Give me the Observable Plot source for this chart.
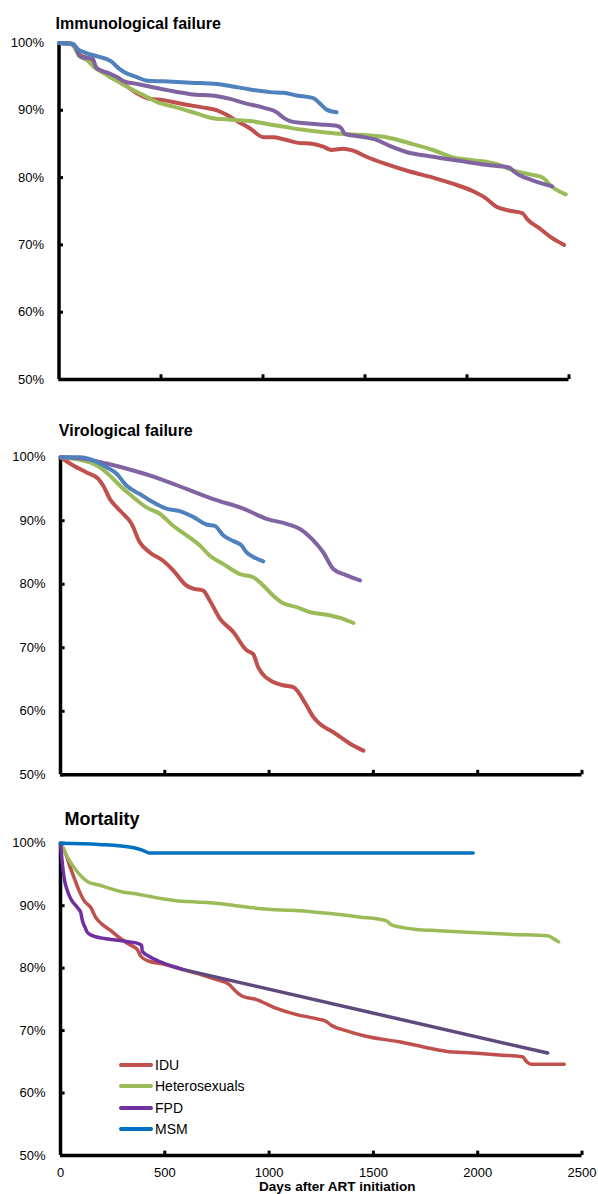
<!DOCTYPE html>
<html><head><meta charset="utf-8">
<script src="https://cdn.jsdelivr.net/npm/d3@7"></script>
<script src="https://cdn.jsdelivr.net/npm/@observablehq/plot@0.6"></script>
<style>
html,body{margin:0;padding:0;background:#fff;}
#page{position:relative;width:598px;height:1194px;overflow:hidden;font-family:"Liberation Sans",Arial,sans-serif;}
.panel{position:absolute;left:0;}
#legend{position:absolute;left:119px;top:1054.4px;}
.row{height:21.3px;display:flex;align-items:center;font-size:14px;color:#000;}
.sw{width:34px;height:4px;border-radius:2px;margin-right:2px;}
</style></head><body><div id="page"></div>
<script>
// ---- ticks ----
const yTicks = [50, 60, 70, 80, 90, 100];
const xTicks = [500, 1000, 1500, 2000, 2500];
const xLabelTicks = [0, 500, 1000, 1500, 2000, 2500];
const groups = ["IDU", "Heterosexuals", "FPD", "MSM"];

// ---- Immunological failure: [days, % free of event] ----
const immIDU = [[0,100],[59,99.9],[83,99.1],[107,98.1],[140,97.8],[165,97.5],[181,96.4],[221,95.7],[287,94.7],[335,93.5],[384,92.5],[433,91.8],[514,91.5],[612,90.9],[709,90.4],[775,90.0],[824,89.3],[873,88.4],[937,87.3],[1002,86.0],[1051,86.0],[1100,85.7],[1166,85.2],[1247,85.0],[1295,84.6],[1336,84.1],[1393,84.3],[1442,84.0],[1507,83.1],[1605,82.0],[1719,80.9],[1833,80.0],[1930,79.1],[2028,78.0],[2093,76.9],[2142,75.7],[2191,75.2],[2272,74.7],[2296,73.8],[2354,72.5],[2418,71.0],[2476,70.0]];
const immHet = [[0,100],[67,99.8],[83,98.9],[99,98.1],[140,97.4],[172,96.4],[221,95.5],[287,94.3],[352,93.2],[417,92.2],[482,91.2],[580,90.4],[677,89.5],[742,88.9],[840,88.6],[937,88.4],[1035,87.9],[1133,87.4],[1198,87.1],[1279,86.8],[1377,86.5],[1507,86.3],[1605,86.0],[1719,85.1],[1833,84.1],[1930,83.0],[2028,82.6],[2158,81.9],[2223,81.1],[2321,80.4],[2370,80.0],[2418,78.6],[2484,77.5]];
const immFPD = [[0,100],[59,99.9],[83,99.4],[99,98.1],[124,97.8],[165,97.7],[181,96.4],[205,95.9],[246,95.5],[287,94.9],[319,94.3],[384,93.9],[449,93.5],[531,93.0],[645,92.4],[775,92.1],[840,91.7],[905,91.1],[1002,90.4],[1068,89.7],[1100,88.9],[1133,88.4],[1198,88.1],[1279,87.9],[1361,87.7],[1385,87.3],[1401,86.5],[1475,86.1],[1556,85.6],[1621,84.7],[1703,83.8],[1833,83.1],[1963,82.5],[2093,81.9],[2207,81.5],[2231,80.9],[2256,80.4],[2321,79.6],[2418,78.7]];
const immMSM = [[0,100],[67,99.9],[91,99.1],[124,98.6],[189,98.0],[254,97.3],[294,96.2],[319,95.7],[384,94.9],[433,94.4],[514,94.3],[645,94.1],[775,93.9],[840,93.6],[937,93.1],[1035,92.7],[1100,92.6],[1166,92.2],[1247,91.8],[1279,91.0],[1312,90.1],[1361,89.7]];

// ---- Virological failure ----
const virIDU = [[0,100],[61,98.7],[125,97.6],[181,96.6],[205,95.5],[237,93.4],[285,91.6],[341,89.5],[380,86.6],[428,85.0],[492,83.7],[540,82.2],[604,79.8],[636,79.3],[684,79.0],[716,77.4],[764,74.6],[828,72.5],[892,69.6],[924,69.0],[948,66.9],[1020,64.6],[1068,64.1],[1116,63.8],[1180,60.9],[1212,59.1],[1244,58.0],[1308,56.7],[1388,54.9],[1452,53.8]];
const virHet = [[0,100],[141,99.2],[189,98.4],[237,97.1],[285,95.5],[349,93.7],[412,92.1],[476,91.1],[540,89.2],[604,87.7],[668,86.1],[716,84.5],[780,83.2],[860,81.6],[924,81.1],[972,79.8],[1020,78.2],[1068,77.0],[1132,76.4],[1196,75.6],[1276,75.2],[1340,74.7],[1404,73.9]];
const virFPD = [[0,100],[125,99.7],[221,99.0],[349,97.9],[476,96.6],[604,95.0],[732,93.4],[876,91.9],[988,90.3],[1084,89.5],[1148,88.7],[1212,86.9],[1260,85.0],[1308,82.4],[1372,81.4],[1436,80.6]];
const virMSM = [[0,100],[93,100],[157,99.5],[221,98.4],[269,97.4],[317,95.5],[380,94.2],[444,92.9],[508,91.9],[572,91.5],[636,90.6],[700,89.4],[740,89.2],[780,87.7],[828,86.8],[868,86.1],[892,85.0],[924,84.3],[972,83.6]];

// ---- Mortality ----
const mortIDU = [[0,100],[25,98.3],[41,96.7],[65,94.5],[89,92.4],[113,90.8],[145,89.7],[169,88.1],[200,87.0],[241,86.0],[281,84.9],[329,83.8],[368,83.0],[385,81.9],[424,81.1],[488,80.7],[553,80.1],[616,79.5],[680,78.9],[744,78.2],[808,77.4],[840,76.3],[872,75.5],[936,75.0],[1032,73.6],[1128,72.6],[1240,71.8],[1272,71.5],[1296,70.9],[1368,70.0],[1464,69.1],[1624,68.2],[1752,67.3],[1847,66.7],[1975,66.4],[2103,66.1],[2215,65.8],[2235,65.0],[2255,64.6],[2415,64.6]];
const mortHet = [[0,100],[25,98.3],[49,96.9],[89,95.1],[137,93.7],[185,93.3],[233,92.8],[296,92.2],[361,91.9],[424,91.5],[488,91.1],[553,90.8],[648,90.6],[744,90.4],[840,90.0],[936,89.6],[1064,89.3],[1144,89.2],[1304,88.7],[1432,88.2],[1560,87.6],[1584,87.0],[1624,86.6],[1704,86.2],[1815,86.0],[1975,85.7],[2167,85.4],[2335,85.2],[2359,84.8],[2388,84.2]];
const mortFPD = [[0,100],[9,96.7],[17,94.5],[33,92.4],[49,91.1],[81,89.7],[97,88.9],[105,87.6],[118,86.5],[129,85.7],[153,85.2],[200,84.8],[265,84.5],[329,84.2],[376,83.9],[389,83.6],[392,82.7],[424,81.9],[472,81.1],[536,80.3],[584,79.8]];
const mortFPDLate = [[584,79.8],[2335,66.4]];
const mortMSM = [[0,100],[185,99.8],[345,99.3],[392,98.9],[424,98.45],[1978,98.45]];

// ---- colours ----
const colA = {IDU: "#C0504D", Heterosexuals: "#9BBB59", FPD: "#8064A2", MSM: "#4F81BD"};
const colB = {IDU: "#C0504D", Heterosexuals: "#9BBB59", FPD: "#7030A0", MSM: "#0070C0"};
const fpdLateColor = "#5F4A7E";

const page = document.getElementById("page");
const font = "'Liberation Sans', Arial, sans-serif";

function panel(cfg) {
  const lines = cfg.series.map(s =>
    Plot.line(s.points, {x: d => d[0], y: d => d[1], stroke: s.color, strokeWidth: cfg.sw,
      curve: "monotone-x", strokeLinecap: "round", strokeLinejoin: "round"}));
  const marks = [
    Plot.ruleX([0], {stroke: "#000", strokeWidth: 3.5}),
    Plot.ruleY([50], {stroke: "#000", strokeWidth: 3.5}),
    Plot.ruleY(yTicks, {y: d => d, x1: 0, x2: 22, stroke: "#000", strokeWidth: 3}),
    Plot.ruleX(xTicks, {x: d => d, y1: 50, y2: 50.7, stroke: "#000", strokeWidth: 3}),
    Plot.axisY({ticks: yTicks, tickFormat: d => d + "%", tickSize: 0, tickPadding: 15, fontSize: 13, label: null}),
    ...lines,
    Plot.text([cfg.title], {text: d => d, frameAnchor: "top-left", textAnchor: "start", lineAnchor: "bottom",
      dx: cfg.tdx, dy: cfg.tdy, fontWeight: "bold", fontSize: cfg.tsize || 16, fill: "#000"})
  ];
  if (cfg.showX) {
    marks.push(Plot.axisX({ticks: xLabelTicks, tickFormat: d => String(d), tickSize: 0, tickPadding: 12, fontSize: 13, label: null}));
    marks.push(Plot.text(["Days after ART initiation"], {text: d => d, frameAnchor: "bottom", lineAnchor: "bottom",
      dx: 16, dy: 35, fontWeight: "bold", fontSize: 13.5, fill: "#000"}));
  }
  const svg = Plot.plot({
    width: 598, height: cfg.height,
    marginTop: cfg.mt, marginBottom: cfg.mb, marginLeft: cfg.ml, marginRight: cfg.mr,
    x: {domain: [0, 2500], axis: null},
    y: {domain: [50, 100], axis: null},
    style: {fontFamily: font, fontSize: "13px", color: "#000", background: "transparent", overflow: "visible"},
    marks
  });
  svg.classList.add("panel");
  svg.style.top = cfg.top + "px";
  page.appendChild(svg);
}

panel({top: 0, height: 395, mt: 42.5, mb: 16, ml: 58.5, mr: 29.5, sw: 4,
  title: "Immunological failure", tdx: -3.5, tdy: -14.5,
  series: [
    {points: immIDU, color: colA.IDU}, {points: immHet, color: colA.Heterosexuals},
    {points: immFPD, color: colA.FPD}, {points: immMSM, color: colA.MSM}]});

panel({top: 400, height: 390, mt: 56.7, mb: 15.7, ml: 60, mr: 16.5, sw: 4,
  title: "Virological failure", tdx: -1.7, tdy: -21.7,
  series: [
    {points: virIDU, color: colA.IDU}, {points: virHet, color: colA.Heterosexuals},
    {points: virFPD, color: colA.FPD}, {points: virMSM, color: colA.MSM}]});

panel({top: 800, height: 394, mt: 42.7, mb: 39, ml: 60, mr: 16.5, sw: 3.5,
  title: "Mortality", tdx: 4, tdy: -18.7, tsize: 18, showX: true,
  series: [
    {points: mortIDU, color: colB.IDU}, {points: mortHet, color: colB.Heterosexuals},
    {points: mortFPDLate, color: fpdLateColor}, {points: mortFPD, color: colB.FPD},
    {points: mortMSM, color: colB.MSM}]});

// legend
const legend = document.createElement("div");
legend.id = "legend";
for (const g of groups) {
  const row = document.createElement("div");
  row.className = "row";
  const sw = document.createElement("span");
  sw.className = "sw";
  sw.style.background = colB[g];
  const t = document.createElement("span");
  t.textContent = g;
  row.appendChild(sw); row.appendChild(t);
  legend.appendChild(row);
}
page.appendChild(legend);
</script></body></html>
